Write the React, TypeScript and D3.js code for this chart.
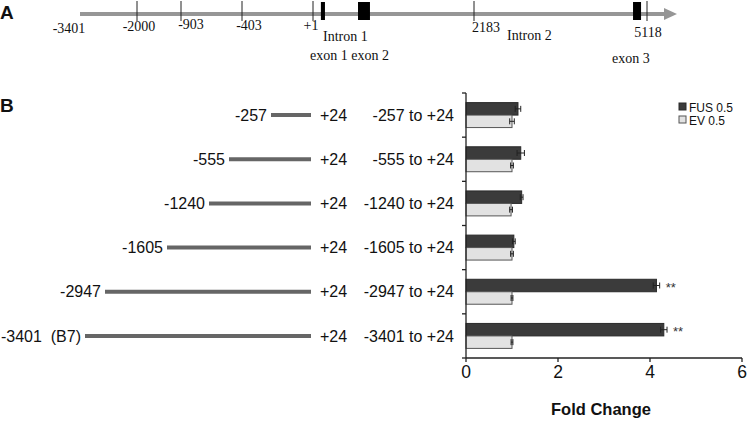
import React from "react";
import * as d3 from "d3";

// ---------- Panel B data ----------
const categories = ["-257 to +24", "-555 to +24", "-1240 to +24", "-1605 to +24", "-2947 to +24", "-3401 to +24"];
const fusValues = [1.13, 1.19, 1.21, 1.04, 4.14, 4.3];
const fusErrors = [0.06, 0.08, 0.03, 0.03, 0.07, 0.07];
const evValues = [1.0, 1.0, 0.98, 1.0, 1.0, 1.0];
const evErrors = [0.05, 0.03, 0.03, 0.03, 0.02, 0.02];
const significance = ["", "", "", "", "**", "**"];
const xTicks = [0, 2, 4, 6];
const seriesNames = ["FUS 0.5", "EV 0.5"];
const constructStartLabels = ["-257", "-555", "-1240", "-1605", "-2947", "-3401  (B7)"];
const constructEndLabel = "+24";
const constructSchematicLength = [40, 82, 102, 144, 206, 226];

// ---------- Panel A data ----------
const mapLandmarks = [-3401, -2000, -903, -403, 1, 2183, 5118];
const mapLandmarkLabels = ["-3401", "-2000", "-903", "-403", "+1", "2183", "5118"];
const mapSchematic = [0, 57, 101, 162, 233, 394, 567];
const exonNames = ["exon 1", "exon 2", "exon 3"];
const exonStarts = [108, 611, 4881];
const exonEnds = [163, 773, 5017];
const mapEnd = 5457;
const mapArrowTip = 5627;

const W = 748;
const H = 421;
const sans = "'Liberation Sans', Arial, sans-serif";
const serif = "'Liberation Serif', 'Times New Roman', serif";

export default function App() {
  // ---- Panel A scales ----
  const mapX = d3.scaleLinear().domain(mapLandmarks).range(mapSchematic.map((s) => 80 + s));
  const lineY = 14;
  const labelDx = [-11, 2, 10, 7, -2, 12, 1];
  const labelBase = [33, 31, 29, 30, 30, 32, 37];

  // ---- Panel B scales ----
  const x = d3.scaleLinear().domain([0, 6]).range([466, 742]);
  const y = d3.scaleBand<string>().domain(categories).range([93, 358]).padding(0);
  const sub = d3
    .scaleBand<string>()
    .domain(seriesNames)
    .range([0, y.step()])
    .paddingInner(0)
    .paddingOuter(0.77);
  const segEnd = 311;
  const segScale = d3.scaleLinear().domain([0, 226]).range([0, 226]);

  const axisColor = "#222";
  const fusFill = "#3b3b3b";
  const evFill = "#e2e2e2";

  const series = [
    { name: seriesNames[0], values: fusValues, errors: fusErrors, fill: fusFill, stroke: "#2a2a2a" },
    { name: seriesNames[1], values: evValues, errors: evErrors, fill: evFill, stroke: "#555" },
  ];

  const boundaries = d3.range(categories.length + 1).map((i) => 93 + i * y.step());

  return (
    <svg
      width={W}
      height={H}
      viewBox={`0 0 ${W} ${H}`}
      style={{ position: "absolute", left: 0, top: 0, background: "#fff" }}
    >
      {/* Panel labels */}
      <text x={0} y={19} fontFamily={sans} fontWeight="bold" fontSize={19} fill="#111">A</text>
      <text x={0} y={112} fontFamily={sans} fontWeight="bold" fontSize={19} fill="#111">B</text>

      {/* ---------- Panel A: gene map ---------- */}
      <line x1={mapX(-3401)} x2={mapX(mapEnd)} y1={lineY} y2={lineY} stroke="#969696" strokeWidth={4} />
      <path
        d={`M${mapX(mapEnd) - 3},${lineY - 6} L${mapX(mapArrowTip)},${lineY} L${mapX(mapEnd) - 3},${lineY + 6} Z`}
        fill="#969696"
      />
      {mapLandmarks.map((m, i) =>
        i === 0 ? null : (
          <line key={"t" + i} x1={mapX(m)} x2={mapX(m)} y1={1} y2={21} stroke="#222" strokeWidth={1} />
        )
      )}
      {exonStarts.map((s, i) => (
        <rect
          key={"ex" + i}
          x={mapX(s)}
          y={2}
          width={mapX(exonEnds[i]) - mapX(s)}
          height={18}
          fill="#000"
        />
      ))}
      {mapLandmarkLabels.map((l, i) => (
        <text
          key={"ml" + i}
          x={mapX(mapLandmarks[i]) + labelDx[i]}
          y={labelBase[i]}
          textAnchor="middle"
          fontFamily={serif}
          fontSize={14}
          fill="#111"
        >
          {l}
        </text>
      ))}
      <text x={323} y={41} fontFamily={serif} fontSize={14} fill="#111">Intron 1</text>
      <text x={310} y={60} fontFamily={serif} fontSize={14} fill="#111">{exonNames[0] + " " + exonNames[1]}</text>
      <text x={507} y={40} fontFamily={serif} fontSize={14} fill="#111">Intron 2</text>
      <text x={612} y={63} fontFamily={serif} fontSize={14} fill="#111">{exonNames[2]}</text>

      {/* ---------- Panel B: constructs ---------- */}
      {categories.map((c, i) => {
        const cy = (y(c) as number) + y.bandwidth() / 2;
        const x0 = segEnd - segScale(constructSchematicLength[i]);
        return (
          <g key={"seg" + i}>
            <line x1={x0} x2={segEnd} y1={cy} y2={cy} stroke="#666" strokeWidth={4} />
            <text
              x={x0 - 4}
              y={cy}
              dy="0.35em"
              textAnchor="end"
              fontFamily={sans}
              fontSize={16}
              fill="#111"
              style={{ whiteSpace: "pre" }}
            >
              {constructStartLabels[i]}
            </text>
            <text x={320} y={cy} dy="0.35em" fontFamily={sans} fontSize={16} fill="#111">
              {constructEndLabel}
            </text>
            <text x={454} y={cy} dy="0.35em" textAnchor="end" fontFamily={sans} fontSize={16} fill="#111">
              {c}
            </text>
          </g>
        );
      })}

      {/* Bars */}
      {categories.map((c, i) => (
        <g key={"bars" + i} transform={`translate(0,${y(c)})`}>
          {series.map((s) => {
            const by = sub(s.name) as number;
            const v = s.values[i];
            const e = s.errors[i];
            const cy = by + sub.bandwidth() / 2;
            return (
              <g key={s.name}>
                <rect
                  x={x(0)}
                  y={by}
                  width={x(v) - x(0)}
                  height={sub.bandwidth()}
                  fill={s.fill}
                  stroke={s.stroke}
                  strokeWidth={1}
                />
                <line x1={x(v - e)} x2={x(v + e)} y1={cy} y2={cy} stroke="#222" strokeWidth={1} />
                <line x1={x(v - e)} x2={x(v - e)} y1={cy - 3} y2={cy + 3} stroke="#222" strokeWidth={1} />
                <line x1={x(v + e)} x2={x(v + e)} y1={cy - 3} y2={cy + 3} stroke="#222" strokeWidth={1} />
              </g>
            );
          })}
          {significance[i] ? (
            <text
              x={x(fusValues[i] + fusErrors[i]) + 6}
              y={(sub(seriesNames[0]) as number) + sub.bandwidth() / 2}
              dy="0.5em"
              fontFamily={sans}
              fontSize={13}
              fill="#333"
            >
              {significance[i]}
            </text>
          ) : null}
        </g>
      ))}

      {/* Y axis */}
      <line x1={x(0)} x2={x(0)} y1={boundaries[0]} y2={boundaries[boundaries.length - 1]} stroke={axisColor} strokeWidth={1.3} />
      {boundaries.map((b, i) => (
        <line key={"yt" + i} x1={x(0) - 4} x2={x(0)} y1={b} y2={b} stroke={axisColor} strokeWidth={1.3} />
      ))}

      {/* X axis */}
      <line x1={x(0)} x2={x(6)} y1={358} y2={358} stroke={axisColor} strokeWidth={1.3} />
      {xTicks.map((t) => (
        <g key={"xt" + t}>
          <line x1={x(t)} x2={x(t)} y1={358} y2={362} stroke={axisColor} strokeWidth={1.3} />
          <text x={x(t)} y={378} textAnchor="middle" fontFamily={sans} fontSize={17.5} fill="#111">
            {t}
          </text>
        </g>
      ))}
      <text x={601} y={415} textAnchor="middle" fontFamily={sans} fontWeight="bold" fontSize={16.5} fill="#111">
        Fold Change
      </text>

      {/* Legend */}
      {series.map((s, i) => (
        <g key={"lg" + i} transform={`translate(679,${103 + i * 13})`}>
          <rect x={0} y={0} width={7} height={7} fill={s.fill} stroke={i === 0 ? "#2a2a2a" : "#555"} strokeWidth={1} />
          <text x={10} y={4} dy="0.38em" fontFamily={sans} fontSize={12} fill="#111">
            {s.name}
          </text>
        </g>
      ))}
    </svg>
  );
}
